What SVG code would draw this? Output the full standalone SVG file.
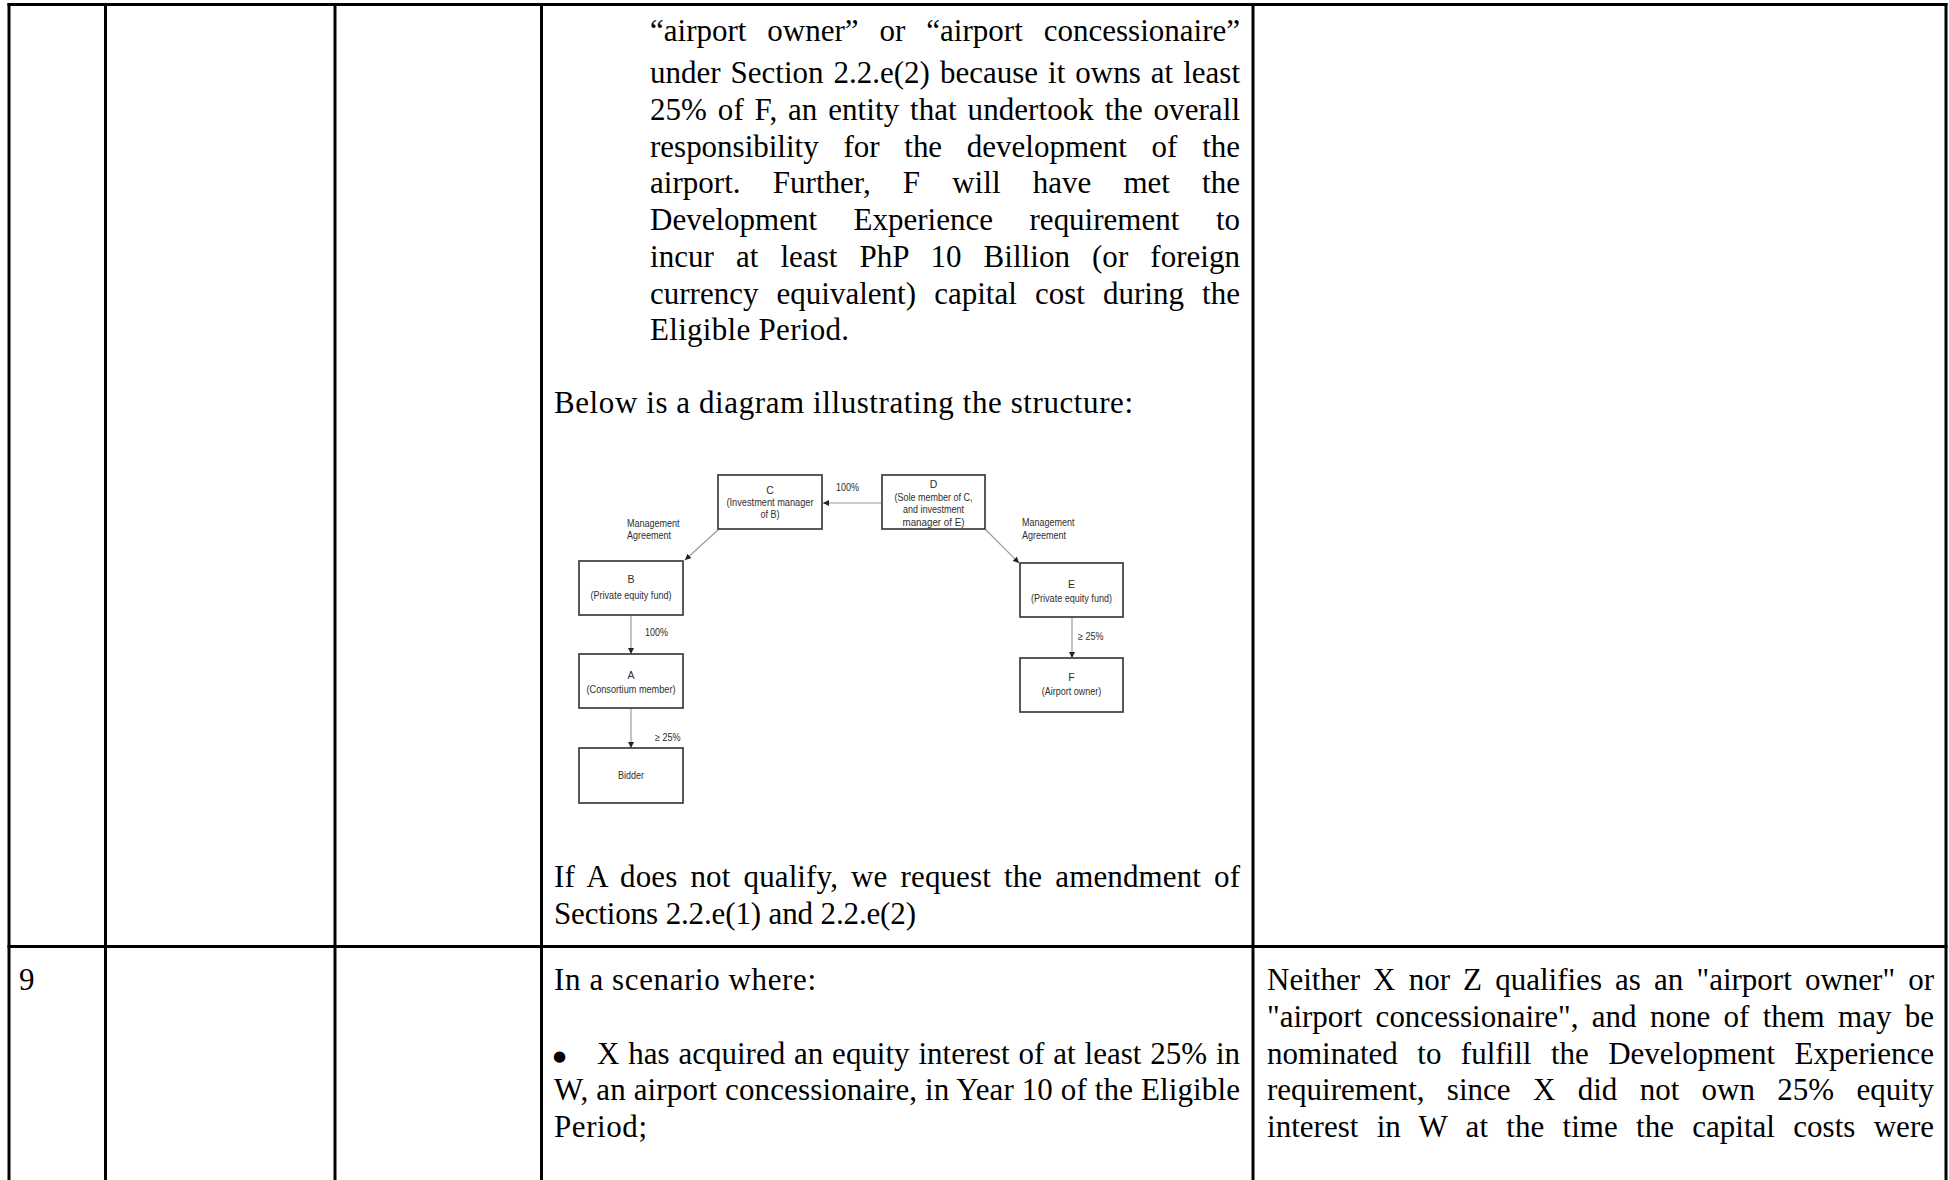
<svg xmlns="http://www.w3.org/2000/svg" width="1949" height="1180" viewBox="0 0 1949 1180">
<defs>
<style>
.grid{stroke:#000;stroke-width:3;fill:none}
.t{font-family:"Liberation Serif","Times New Roman",serif;font-size:31px;fill:#000}
.bul{font-family:"DejaVu Sans",sans-serif;font-size:15px;fill:#000}
.box{fill:#fff;stroke:#3c3c3c;stroke-width:1.7}
.d{font-family:"Liberation Sans",Arial,sans-serif;font-size:10.5px;fill:#2e2e2e}
.c{text-anchor:middle}
.conn{stroke:#9a9a9a;stroke-width:1.2;fill:none}
</style>
<marker id="ah" viewBox="0 0 10 10" refX="10" refY="5" markerWidth="6" markerHeight="6" orient="auto" markerUnits="userSpaceOnUse">
<path d="M0,0 L10,5 L0,10 z" fill="#222"/>
</marker>
</defs>
<rect width="1949" height="1180" fill="#fff"/>

<g id="table">
<line class="grid" x1="7.5" y1="4.5" x2="1947.5" y2="4.5"/>
<line class="grid" x1="7.5" y1="946.5" x2="1947.5" y2="946.5"/>
<line class="grid" x1="9" y1="3" x2="9" y2="1180"/>
<line class="grid" x1="105.5" y1="3" x2="105.5" y2="1180"/>
<line class="grid" x1="335" y1="3" x2="335" y2="1180"/>
<line class="grid" x1="541.5" y1="3" x2="541.5" y2="1180"/>
<line class="grid" x1="1253" y1="3" x2="1253" y2="1180"/>
<line class="grid" x1="1946" y1="3" x2="1946" y2="1180"/>
</g>

<g id="row8-text">
<text class="t" x="650" y="41" style="word-spacing:13.2px" textLength="590" lengthAdjust="spacing">“airport owner” or “airport concessionaire”</text>
<text class="t" x="650" y="83" style="word-spacing:2.3px" textLength="590" lengthAdjust="spacing">under Section 2.2.e(2) because it owns at least</text>
<text class="t" x="650" y="119.75" style="word-spacing:3px" textLength="590" lengthAdjust="spacing">25% of F, an entity that undertook the overall</text>
<text class="t" x="650" y="156.5" style="word-spacing:17px" textLength="590" lengthAdjust="spacing">responsibility for the development of the</text>
<text class="t" x="650" y="193.25" style="word-spacing:24.3px" textLength="590" lengthAdjust="spacing">airport. Further, F will have met the</text>
<text class="t" x="650" y="230" style="word-spacing:28.8px" textLength="590" lengthAdjust="spacing">Development Experience requirement to</text>
<text class="t" x="650" y="266.75" style="word-spacing:14.3px" textLength="590" lengthAdjust="spacing">incur at least PhP 10 Billion (or foreign</text>
<text class="t" x="650" y="303.5" style="word-spacing:10.4px" textLength="590" lengthAdjust="spacing">currency equivalent) capital cost during the</text>
<text class="t" x="650" y="340.25" textLength="199" lengthAdjust="spacing">Eligible Period.</text>
<text class="t" x="554" y="413" textLength="579" lengthAdjust="spacing">Below is a diagram illustrating the structure:</text>
<text class="t" x="554" y="887" style="word-spacing:5.2px" textLength="686" lengthAdjust="spacing">If A does not qualify, we request the amendment of</text>
<text class="t" x="554" y="923.5" textLength="362" lengthAdjust="spacing">Sections 2.2.e(1) and 2.2.e(2)</text>
</g>

<g id="row9-text">
<text class="t" x="19" y="990">9</text>
<text class="t" x="554" y="990" textLength="262" lengthAdjust="spacing">In a scenario where:</text>
<text class="bul" x="553" y="1061">●</text>
<text class="t" x="597" y="1063.5" style="word-spacing:1.1px" textLength="643" lengthAdjust="spacing">X has acquired an equity interest of at least 25% in</text>
<text class="t" x="554" y="1100.25" textLength="686" lengthAdjust="spacing">W, an airport concessionaire, in Year 10 of the Eligible</text>
<text class="t" x="554" y="1137" textLength="93" lengthAdjust="spacing">Period;</text>
<text class="t" x="1267" y="990" style="word-spacing:5.4px" textLength="667" lengthAdjust="spacing">Neither X nor Z qualifies as an "airport owner" or</text>
<text class="t" x="1267" y="1026.75" style="word-spacing:5.6px" textLength="667" lengthAdjust="spacing">"airport concessionaire", and none of them may be</text>
<text class="t" x="1267" y="1063.5" style="word-spacing:11.7px" textLength="667" lengthAdjust="spacing">nominated to fulfill the Development Experience</text>
<text class="t" x="1267" y="1100.25" style="word-spacing:14.6px" textLength="667" lengthAdjust="spacing">requirement, since X did not own 25% equity</text>
<text class="t" x="1267" y="1137" style="word-spacing:10.5px" textLength="667" lengthAdjust="spacing">interest in W at the time the capital costs were</text>
</g>

<g id="connectors">
<line class="conn" x1="882" y1="503" x2="823" y2="503" marker-end="url(#ah)"/>
<line class="conn" x1="719" y1="529" x2="685" y2="560" marker-end="url(#ah)"/>
<line class="conn" x1="985" y1="529" x2="1019" y2="563" marker-end="url(#ah)"/>
<line class="conn" x1="631" y1="615" x2="631" y2="654" marker-end="url(#ah)"/>
<line class="conn" x1="631" y1="708" x2="631" y2="748" marker-end="url(#ah)"/>
<line class="conn" x1="1072" y1="617" x2="1072" y2="658" marker-end="url(#ah)"/>
<text class="d" x="836" y="491" textLength="23" lengthAdjust="spacingAndGlyphs">100%</text>
<text class="d" x="627" y="526.5" textLength="52.5" lengthAdjust="spacingAndGlyphs">Management</text>
<text class="d" x="627" y="539" textLength="44" lengthAdjust="spacingAndGlyphs">Agreement</text>
<text class="d" x="1022" y="526" textLength="52.5" lengthAdjust="spacingAndGlyphs">Management</text>
<text class="d" x="1022" y="539" textLength="44" lengthAdjust="spacingAndGlyphs">Agreement</text>
<text class="d" x="645" y="635.5" textLength="23" lengthAdjust="spacingAndGlyphs">100%</text>
<text class="d" x="655" y="740.5" textLength="25.5" lengthAdjust="spacingAndGlyphs">≥ 25%</text>
<text class="d" x="1078" y="639.5" textLength="25.5" lengthAdjust="spacingAndGlyphs">≥ 25%</text>
</g>

<g id="node-C">
<rect class="box" x="718" y="475" width="104" height="54"/>
<text class="d c" x="770" y="494">C</text>
<text class="d c" x="770" y="506" textLength="87" lengthAdjust="spacingAndGlyphs">(Investment manager</text>
<text class="d c" x="770" y="518" textLength="19" lengthAdjust="spacingAndGlyphs">of B)</text>
</g>
<g id="node-D">
<rect class="box" x="882" y="475" width="103" height="54"/>
<text class="d c" x="933.5" y="488">D</text>
<text class="d c" x="933.5" y="500.5" textLength="78" lengthAdjust="spacingAndGlyphs">(Sole member of C,</text>
<text class="d c" x="933.5" y="513" textLength="61" lengthAdjust="spacingAndGlyphs">and investment</text>
<text class="d c" x="933.5" y="525.5" textLength="62" lengthAdjust="spacingAndGlyphs">manager of E)</text>
</g>
<g id="node-B">
<rect class="box" x="579" y="561" width="104" height="54"/>
<text class="d c" x="631" y="583">B</text>
<text class="d c" x="631" y="598.5" textLength="81" lengthAdjust="spacingAndGlyphs">(Private equity fund)</text>
</g>
<g id="node-A">
<rect class="box" x="579" y="654" width="104" height="54"/>
<text class="d c" x="631" y="679">A</text>
<text class="d c" x="631" y="693" textLength="89" lengthAdjust="spacingAndGlyphs">(Consortium member)</text>
</g>
<g id="node-Bidder">
<rect class="box" x="579" y="748" width="104" height="55"/>
<text class="d c" x="631" y="779" textLength="26" lengthAdjust="spacingAndGlyphs">Bidder</text>
</g>
<g id="node-E">
<rect class="box" x="1020" y="563" width="103" height="54"/>
<text class="d c" x="1071.5" y="588">E</text>
<text class="d c" x="1071.5" y="602" textLength="81" lengthAdjust="spacingAndGlyphs">(Private equity fund)</text>
</g>
<g id="node-F">
<rect class="box" x="1020" y="658" width="103" height="54"/>
<text class="d c" x="1071.5" y="681">F</text>
<text class="d c" x="1071.5" y="695" textLength="59.5" lengthAdjust="spacingAndGlyphs">(Airport owner)</text>
</g>
</svg>
